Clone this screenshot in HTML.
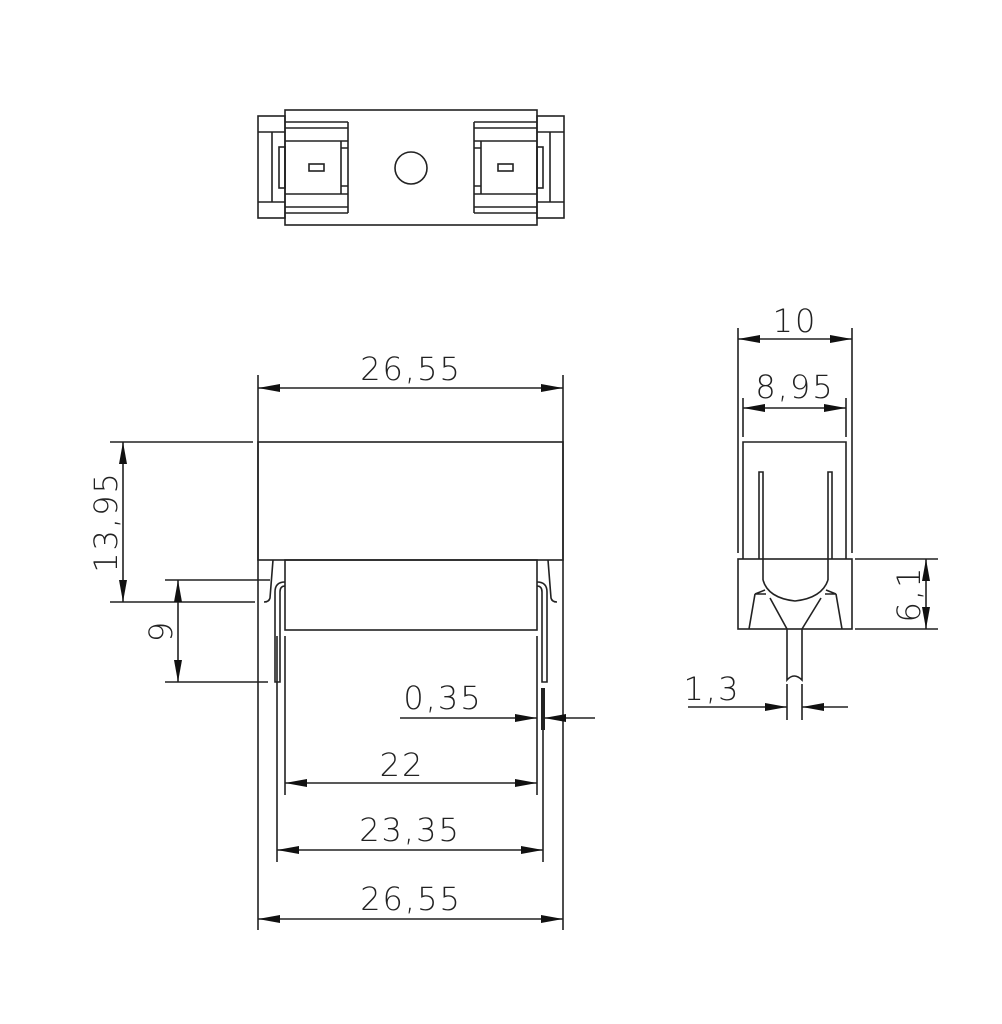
<!DOCTYPE html>
<html><head><meta charset="utf-8"><style>
html,body{margin:0;padding:0;background:#fff;}
svg{display:block;}
text{font-family:"DejaVu Sans","Liberation Sans",sans-serif;font-size:32px;fill:#222;font-weight:300;letter-spacing:2px;}
</style></head><body>
<svg width="1002" height="1024" viewBox="0 0 1002 1024" xmlns="http://www.w3.org/2000/svg">
<defs>
<marker id="a" viewBox="0 0 22 10" refX="22" refY="5" markerWidth="22" markerHeight="10" orient="auto-start-reverse" markerUnits="userSpaceOnUse"><path d="M0,1 L22,5 L0,9 Z" fill="#111"/></marker>
</defs>
<g fill="none" stroke="#222" stroke-width="1.6">
<!-- TOP VIEW -->
<rect x="285" y="110" width="252" height="115"/>
<rect x="258" y="116" width="27" height="102"/>
<line x1="272" y1="132" x2="272" y2="202"/>
<line x1="258" y1="132" x2="285" y2="132"/><line x1="258" y1="202" x2="285" y2="202"/>
<rect x="279" y="147" width="6" height="41"/>
<line x1="285" y1="122" x2="348" y2="122"/><line x1="285" y1="128" x2="348" y2="128"/>
<line x1="285" y1="141" x2="348" y2="141"/><line x1="285" y1="194" x2="348" y2="194"/>
<line x1="285" y1="207" x2="348" y2="207"/><line x1="285" y1="213" x2="348" y2="213"/>
<line x1="348" y1="122" x2="348" y2="213"/>
<path d="M341,141 L341,194 M341,148 L348,148 M341,186 L348,186"/>
<rect x="309" y="164" width="15" height="7"/>
<circle cx="411" cy="168" r="16"/>
<rect x="537" y="116" width="27" height="102"/>
<line x1="550" y1="132" x2="550" y2="202"/>
<line x1="537" y1="132" x2="564" y2="132"/><line x1="537" y1="202" x2="564" y2="202"/>
<rect x="537" y="147" width="6" height="41"/>
<line x1="474" y1="122" x2="537" y2="122"/><line x1="474" y1="128" x2="537" y2="128"/>
<line x1="474" y1="141" x2="537" y2="141"/><line x1="474" y1="194" x2="537" y2="194"/>
<line x1="474" y1="207" x2="537" y2="207"/><line x1="474" y1="213" x2="537" y2="213"/>
<line x1="474" y1="122" x2="474" y2="213"/>
<path d="M481,141 L481,194 M474,148 L481,148 M474,186 L481,186"/>
<rect x="498" y="164" width="15" height="7"/>

<!-- FRONT VIEW -->
<rect x="258" y="442" width="305" height="118"/>
<line x1="258" y1="375" x2="258" y2="930"/>
<line x1="563" y1="375" x2="563" y2="930"/>
<line x1="110" y1="442" x2="253" y2="442"/>
<line x1="110" y1="602" x2="255" y2="602"/>
<path d="M273,560 L270,598 Q269,602 264,602"/>
<path d="M548,560 L551,598 Q552,602 557,602"/>
<rect x="285" y="560" width="252" height="70"/>
<path d="M285,582 Q275,582 275,592 L275,682 L280,682 L280,592 Q280,586 285,586"/>
<path d="M537,582 Q547,582 547,592 L547,682 L542,682 L542,592 Q542,586 537,586"/>
<line x1="165" y1="580" x2="270" y2="580"/>
<line x1="165" y1="682" x2="268" y2="682"/>
<line x1="277" y1="636" x2="277" y2="862"/>
<line x1="285" y1="636" x2="285" y2="795"/>
<line x1="537" y1="636" x2="537" y2="795"/>
<line x1="543" y1="688" x2="543" y2="862"/>
<line x1="543" y1="688" x2="543" y2="730" stroke-width="4"/>
<!-- dims -->
<line x1="258" y1="388" x2="563" y2="388" marker-start="url(#a)" marker-end="url(#a)"/>
<line x1="123" y1="442" x2="123" y2="602" marker-start="url(#a)" marker-end="url(#a)"/>
<line x1="178" y1="580" x2="178" y2="682" marker-start="url(#a)" marker-end="url(#a)"/>
<line x1="400" y1="718" x2="537" y2="718" marker-end="url(#a)"/>
<line x1="595" y1="718" x2="544" y2="718" marker-end="url(#a)"/>
<line x1="285" y1="783" x2="537" y2="783" marker-start="url(#a)" marker-end="url(#a)"/>
<line x1="277" y1="850" x2="543" y2="850" marker-start="url(#a)" marker-end="url(#a)"/>
<line x1="258" y1="919" x2="563" y2="919" marker-start="url(#a)" marker-end="url(#a)"/>

<!-- SIDE VIEW -->
<line x1="738" y1="328" x2="738" y2="553"/>
<line x1="852" y1="328" x2="852" y2="553"/>
<line x1="743" y1="398" x2="743" y2="437"/>
<line x1="846" y1="398" x2="846" y2="437"/>
<line x1="738" y1="339" x2="852" y2="339" marker-start="url(#a)" marker-end="url(#a)"/>
<line x1="743" y1="408" x2="846" y2="408" marker-start="url(#a)" marker-end="url(#a)"/>
<path d="M743,559 L743,442 L846,442 L846,559"/>
<rect x="738" y="559" width="114" height="70"/>
<path d="M759,559 L759,472 L763,472 L763,580"/>
<path d="M832,559 L832,472 L828,472 L828,580"/>
<path d="M763,580 Q768,598 795,601 Q822,598 828,580"/>
<path d="M765,590 L755,594 L766,594 M755,594 L749,629"/>
<path d="M826,590 L836,594 L825,594 M836,594 L842,629"/>
<path d="M770,598 L787,629 M821,598 L802,629"/>
<path d="M787,629 L787,680 Q794,672 802,680 L802,629"/>
<line x1="855" y1="559" x2="938" y2="559"/>
<line x1="855" y1="629" x2="938" y2="629"/>
<line x1="926" y1="559" x2="926" y2="629" marker-start="url(#a)" marker-end="url(#a)"/>
<line x1="787" y1="684" x2="787" y2="720"/>
<line x1="802" y1="684" x2="802" y2="720"/>
<line x1="688" y1="707" x2="787" y2="707" marker-end="url(#a)"/>
<line x1="848" y1="707" x2="802" y2="707" marker-end="url(#a)"/>
</g>
<text x="411" y="380" text-anchor="middle">26,55</text>
<text x="402" y="776" text-anchor="middle">22</text>
<text x="410" y="841" text-anchor="middle">23,35</text>
<text x="411" y="910" text-anchor="middle">26,55</text>
<text x="443" y="709" text-anchor="middle">0,35</text>
<text x="795" y="332" text-anchor="middle">10</text>
<text x="795" y="398" text-anchor="middle">8,95</text>
<text x="712" y="700" text-anchor="middle">1,3</text>
<text transform="translate(117,522) rotate(-90)" text-anchor="middle">13,95</text>
<text transform="translate(172,631) rotate(-90)" text-anchor="middle">9</text>
<text transform="translate(920,594) rotate(-90)" text-anchor="middle">6,1</text>
</svg>
</body></html>
